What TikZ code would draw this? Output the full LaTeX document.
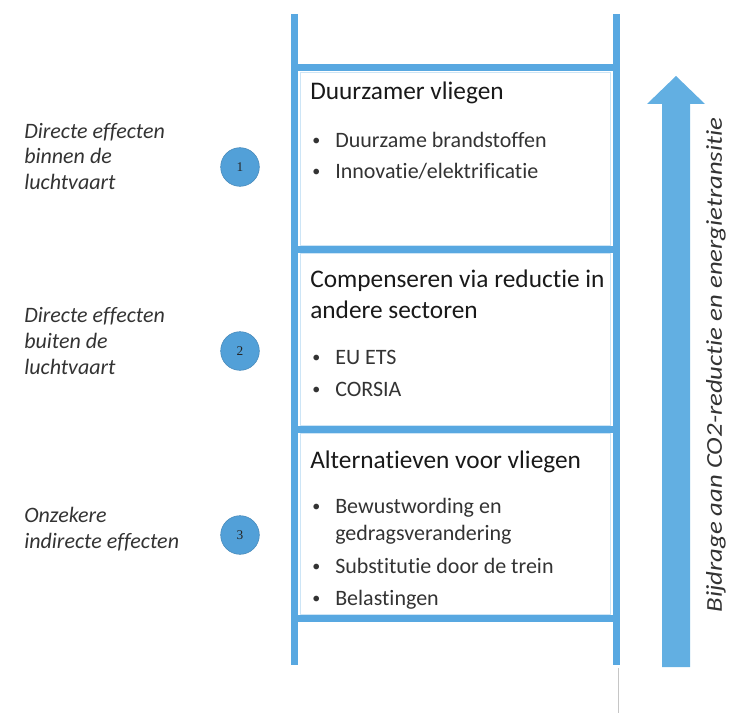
\documentclass[tikz,border=0pt]{standalone}
\usepackage{fontspec}
\setmainfont{Carlito}[Ligatures=NoCommon]
\newfontfamily\numfont{Liberation Serif}
\newfontfamily\widefont{Carlito}[Ligatures=NoCommon,FakeStretch=1.18]
\usetikzlibrary{positioning}

\definecolor{ladderblue}{RGB}{88,168,225}
\definecolor{arrowblue}{RGB}{98,175,226}
\definecolor{circleblue}{RGB}{82,160,216}

\newcommand{\smallbullet}{\raisebox{1pt}{\fontsize{12}{14}\selectfont\textbullet}}

\begin{document}
\begin{tikzpicture}[x=0.75pt,y=-0.75pt,
    rail/.style={draw=ladderblue,line width=5.25pt},
    panel/.style={draw=ladderblue!30,line width=0.5pt},
    head/.style={anchor=base west,inner sep=0pt,font=\fontsize{19}{23}\selectfont,text=black!90},
    item/.style={anchor=base west,inner sep=0pt,font=\fontsize{16.5}{20}\selectfont,text=black!80},
    side/.style={anchor=base west,inner sep=0pt,font=\fontsize{16.5}{20}\selectfont\itshape,text=black!80},
    num/.style={circle,fill=circleblue,draw=circleblue!85!black,line width=0.4pt,minimum size=29pt,inner sep=0pt,font=\numfont\fontsize{10}{12}\selectfont,text=black!85}]

\useasboundingbox (0,0) rectangle (729,717);

% Panels
\draw[panel] (300,72) rectangle (610,245);
\draw[panel] (300,253) rectangle (610,425);
\draw[panel] (300,433) rectangle (610,614);

% Ladder
\draw[rail] (294.5,14) -- (294.5,665);
\draw[rail] (616.5,14) -- (616.5,665);
\draw[rail] (294.5,68) -- (616.5,68);
\draw[rail] (294.5,249) -- (616.5,249);
\draw[rail] (294.5,429) -- (616.5,429);
\draw[rail] (294.5,618) -- (616.5,618);
\draw[gray!45,line width=0.5pt] (618,668) -- (618,713);

% -------------------------------------------

\node[head] (t1) at (310,100) {Duurzamer vliegen};
\node[item] (b1a) at (312,147) {\smallbullet};
\node[item] (i1a) at (335,147) {Duurzame brandstoffen};
\node[item] (b1b) at (312,178) {\smallbullet};
\node[item] (i1b) at (335,178) {Innovatie/elektrificatie};

\node[head] (t2a) at (310,287) {Compenseren via reductie in};
\node[head] (t2b) at (310,318) {andere sectoren};
\node[item] (b2a) at (312,364) {\smallbullet};
\node[item] (i2a) at (335,364) {EU ETS};
\node[item] (b2b) at (312,396) {\smallbullet};
\node[item] (i2b) at (335,396) {CORSIA};

\node[head] (t3) at (310,468) {Alternatieven voor vliegen};
\node[item] (b3a) at (312,513) {\smallbullet};
\node[item] (i3a) at (335,513) {Bewustwording en};
\node[item] (i3b) at (335,540) {gedragsverandering};
\node[item] (b3c) at (312,573) {\smallbullet};
\node[item] (i3c) at (335,573) {Substitutie door de trein};
\node[item] (b3d) at (312,605) {\smallbullet};
\node[item] (i3d) at (335,605) {Belastingen};

% -------------------------------------------

\node[side] (s1a) at (24,138) {Directe effecten};
\node[side] (s1b) at (24,164) {binnen de};
\node[side] (s1c) at (24,190) {luchtvaart};
\node[num] (n1) at (240,167) {1};

\node[side] (s2a) at (24,322) {Directe effecten};
\node[side] (s2b) at (24,348) {buiten de};
\node[side] (s2c) at (24,374) {luchtvaart};
\node[num] (n2) at (240,351) {2};

\node[side] (s3a) at (24,522) {Onzekere};
\node[side] (s3b) at (24,548) {indirecte effecten};
\node[num] (n3) at (240,535) {3};

% Arrow
\fill[arrowblue] (676,76) -- (705,104) -- (690,104) -- (690,667) -- (662,667) -- (662,104) -- (647,104) -- cycle;
\node[rotate=90,font=\widefont\fontsize{17}{20}\selectfont\itshape,text=black!80] (lbl) at (716,365) {Bijdrage aan CO2-reductie en energietransitie};

\end{tikzpicture}
\end{document}
